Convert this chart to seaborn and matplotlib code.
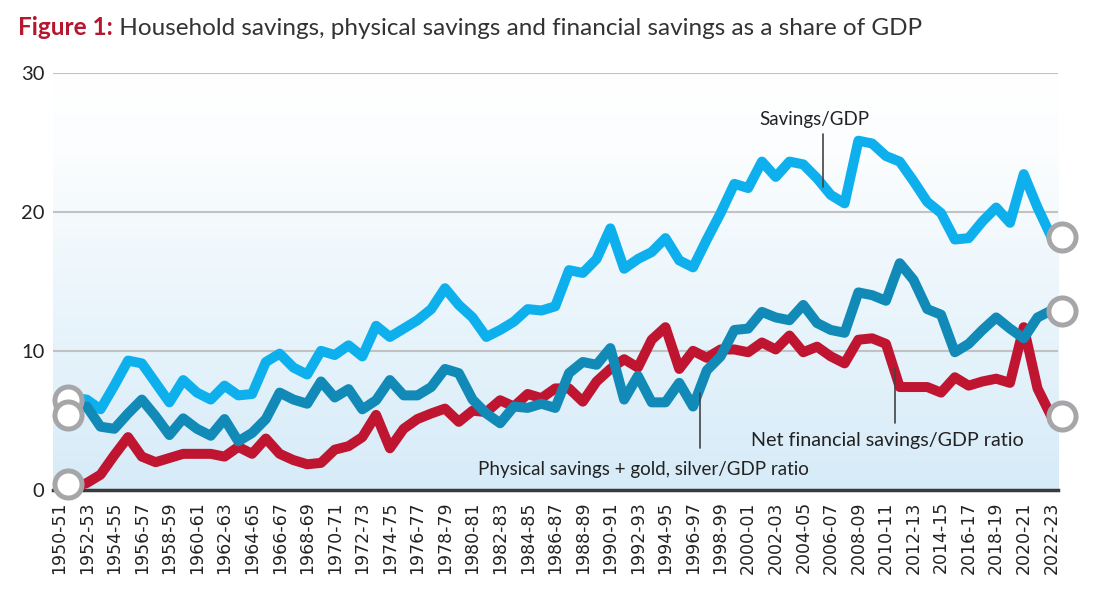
import numpy as np
import pandas as pd
import seaborn as sns
import matplotlib.pyplot as plt
from matplotlib import transforms
from matplotlib.colors import LinearSegmentedColormap

# fiscal years 1950-51 ... 2022-23
years = [f"{y}-{(y + 1) % 100:02d}" for y in range(1950, 2023)]

savings_gdp = [6.5, 6.6, 6.5, 5.8, 7.5, 9.3, 9.1, 7.7, 6.3, 7.9,
               7.0, 6.5, 7.5, 6.8, 6.9, 9.2, 9.8, 8.8, 8.3, 10.0,
               9.7, 10.4, 9.6, 11.8, 11.0, 11.6, 12.2, 13.0, 14.5, 13.3,
               12.4, 11.0, 11.5, 12.1, 13.0, 12.9, 13.2, 15.8, 15.6, 16.6,
               18.8, 15.9, 16.6, 17.1, 18.1, 16.5, 16.0, 18.0, 19.9, 22.0,
               21.7, 23.6, 22.5, 23.6, 23.4, 22.4, 21.2, 20.6, 25.1, 24.9,
               24.0, 23.6, 22.2, 20.7, 19.9, 18.0, 18.1, 19.3, 20.3, 19.2,
               22.7, 20.3, 18.2]

physical_gdp = [5.4, 5.8, 6.0, 4.55, 4.4, 5.5, 6.5, 5.3, 3.95, 5.15,
                4.4, 3.9, 5.1, 3.5, 4.1, 5.1, 7.0, 6.5, 6.2, 7.8,
                6.65, 7.25, 5.8, 6.45, 7.9, 6.8, 6.8, 7.4, 8.7, 8.4,
                6.5, 5.5, 4.8, 6.0, 5.9, 6.2, 5.9, 8.4, 9.2, 9.0,
                10.2, 6.5, 8.2, 6.3, 6.3, 7.7, 6.0, 8.6, 9.6, 11.5,
                11.6, 12.8, 12.4, 12.2, 13.3, 12.0, 11.5, 11.3, 14.2, 14.0,
                13.6, 16.3, 15.1, 13.0, 12.6, 9.9, 10.5, 11.5, 12.4, 11.6,
                10.9, 12.4, 12.9]

net_financial_gdp = [0.45, 0.2, 0.5, 1.1, 2.5, 3.8, 2.4, 2.0, 2.3, 2.6,
                     2.6, 2.6, 2.4, 3.1, 2.6, 3.7, 2.6, 2.15, 1.85, 1.95,
                     2.9, 3.15, 3.8, 5.4, 3.0, 4.4, 5.1, 5.5, 5.85, 4.9,
                     5.7, 5.6, 6.45, 6.0, 6.9, 6.6, 7.3, 7.3, 6.35, 7.8,
                     8.7, 9.4, 8.8, 10.8, 11.7, 8.7, 10.0, 9.5, 10.1, 10.1,
                     9.9, 10.6, 10.1, 11.1, 9.9, 10.3, 9.6, 9.1, 10.8, 10.9,
                     10.5, 7.4, 7.4, 7.4, 7.0, 8.1, 7.5, 7.8, 8.0, 7.7,
                     11.7, 7.3, 5.3]

df = pd.DataFrame({
    'idx': np.arange(len(years)),
    'year': years,
    'savings': savings_gdp,
    'physical': physical_gdp,
    'net': net_financial_gdp,
})

sns.set_style("white")
plt.rcParams['font.family'] = ['Lato', 'DejaVu Sans']

fig = plt.figure(figsize=(10.96, 5.97), dpi=100)
ax = fig.add_axes([0.0482, 0.1792, 0.9173, 0.6993])

x_lo, x_hi = -0.46, 72.5

# soft blue background fading to white
bg = LinearSegmentedColormap.from_list('bg', [(0, '#d6ebf8'), (0.8, '#fbfdfe'), (1, '#ffffff')])
grad = np.linspace(0, 1, 256).reshape(-1, 1)
ax.imshow(grad, cmap=bg, origin='lower', extent=(x_lo, x_hi, 0, 30), aspect='auto', zorder=0)

colors = {'savings': '#0db0ec', 'physical': '#128ab7', 'net': '#bf1530'}
order = ['savings', 'net', 'physical']
for col in order:
    sns.lineplot(data=df, x='idx', y=col, color=colors[col], lw=7.2, ax=ax, zorder=3)

# end circles
dx_left = transforms.ScaledTranslation(0.09, 0, fig.dpi_scale_trans)
dx_right = transforms.ScaledTranslation(0.11, 0, fig.dpi_scale_trans)
for col in order:
    ax.plot([df['idx'].iloc[0]], [df[col].iloc[0]], 'o', ms=19.5, mfc='white', mec='#a6a6a9',
            mew=3.6, clip_on=False, zorder=6, transform=ax.transData + dx_left)
    ax.plot([df['idx'].iloc[-1]], [df[col].iloc[-1]], 'o', ms=19.5, mfc='white', mec='#a6a6a9',
            mew=3.6, clip_on=False, zorder=6, transform=ax.transData + dx_right)

ax.set_xlim(x_lo, x_hi)
ax.set_ylim(0, 30)
ax.set_xlabel('')
ax.set_ylabel('')

ax.set_yticks([0, 10, 20, 30])
ax.set_yticklabels(['0', '10', '20', '30'], fontsize=14.5, color='#222222')
ax.set_xticks(df['idx'][::2])
ax.set_xticklabels(df['year'][::2], rotation=90, fontsize=12.5, color='#222222', family='DejaVu Sans')
ax.tick_params(axis='both', length=0)
ax.tick_params(axis='y', pad=6)
ax.tick_params(axis='x', pad=8)

ax.yaxis.grid(True, color='#c2c2c2', lw=1.5)
ax.xaxis.grid(False)
ax.set_axisbelow(True)
for s in ['top', 'left', 'right']:
    ax.spines[s].set_visible(False)
ax.spines['bottom'].set_color('#3a3a3a')
ax.spines['bottom'].set_linewidth(2.5)

# annotations
txt = dict(color='#222222', fontsize=13.5, va='baseline')
ax.text(54.8, 26.2, 'Savings/GDP', ha='center', **txt)
ax.plot([55.4, 55.4], [21.75, 25.6], color='#444444', lw=1.2, zorder=4)
ax.text(42.4, 1.08, 'Physical savings + gold, silver/GDP ratio', ha='center', **txt)
ax.plot([46.5, 46.5], [3.0, 7.0], color='#444444', lw=1.2, zorder=4)
ax.text(60.1, 3.16, 'Net financial savings/GDP ratio', ha='center', fontsize=14.2,
        color='#222222', va='baseline')
ax.plot([60.65, 60.65], [4.8, 8.76], color='#444444', lw=1.2, zorder=4)

# title
t1 = fig.text(18 / 1096, 1 - 35 / 597, 'Figure 1:', fontsize=17.5, fontweight='bold',
              color='#b5172f', va='baseline')
ax.annotate(' Household savings, physical savings and financial savings as a share of GDP',
            xy=(1, 0), xycoords=t1, va='bottom', ha='left', fontsize=17.5, color='#333333',
            annotation_clip=False)

fig.savefig('out.png', dpi=100)
